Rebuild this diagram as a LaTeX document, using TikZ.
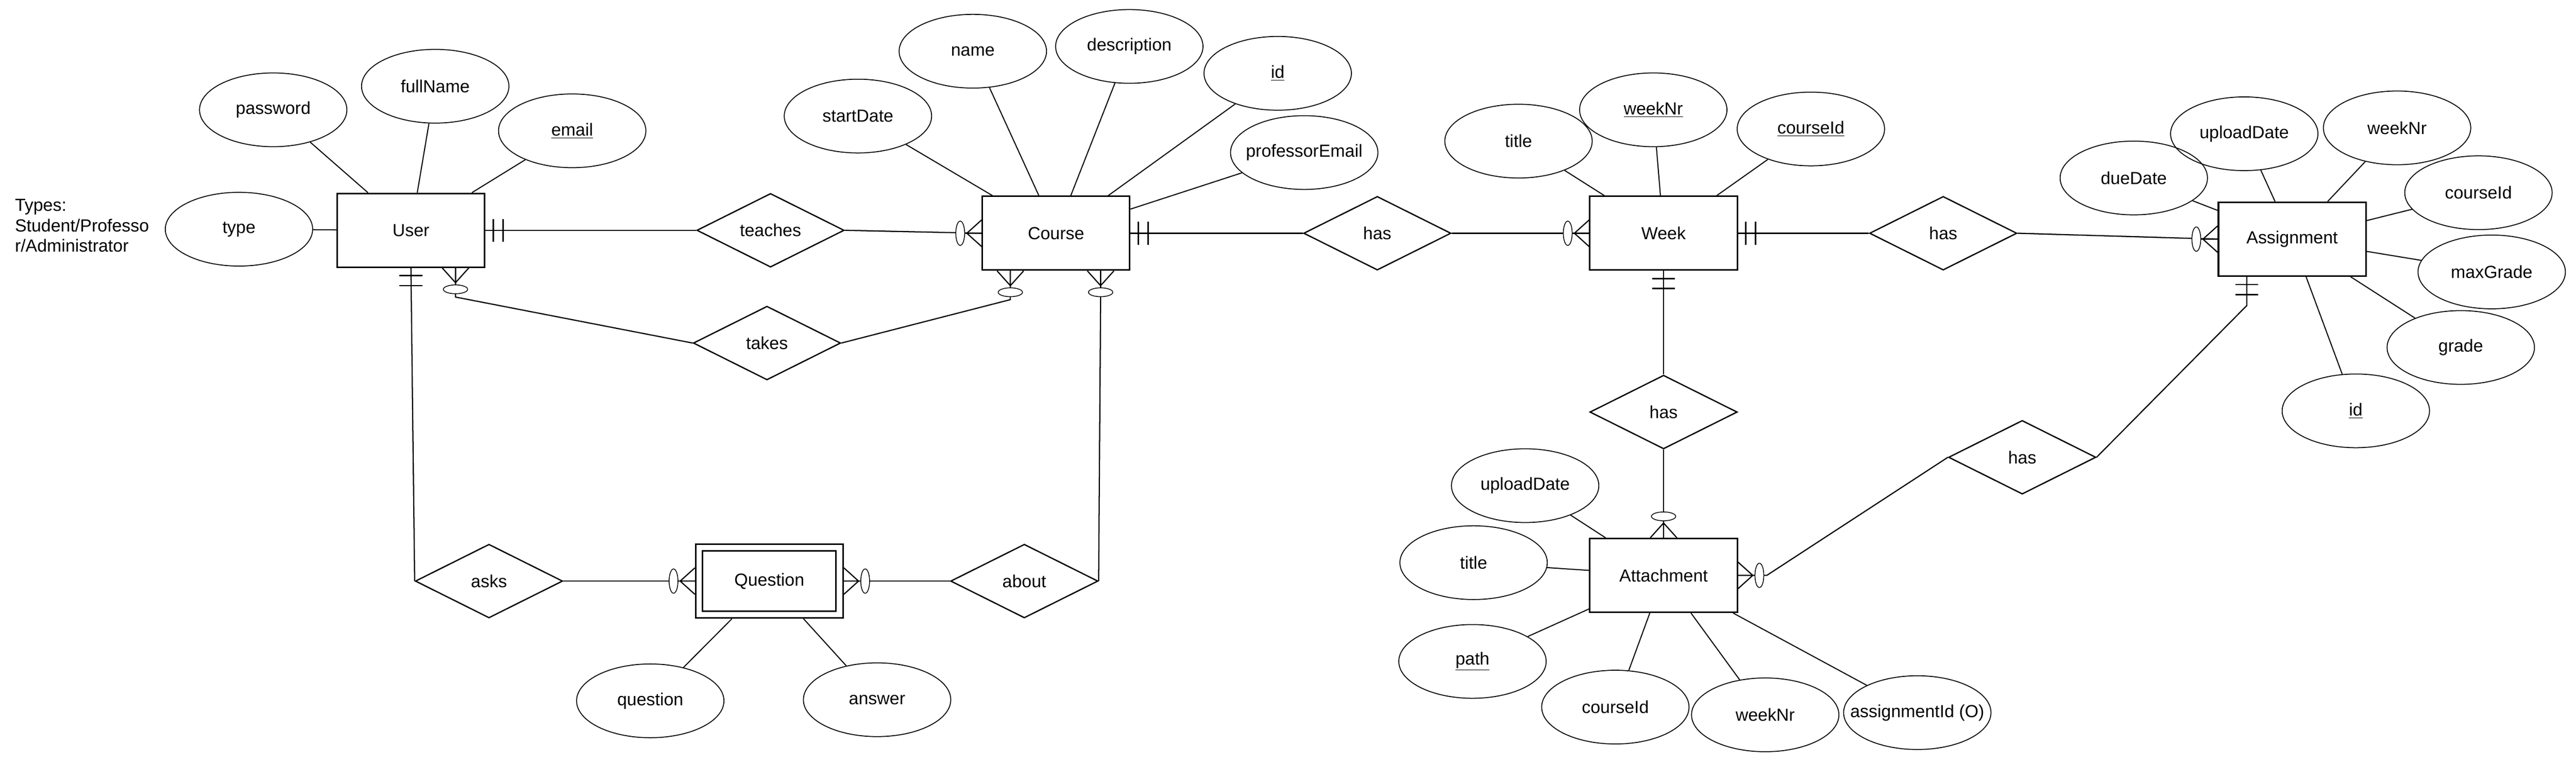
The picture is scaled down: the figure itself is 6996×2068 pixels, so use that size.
\documentclass[tikz,border=0pt]{standalone}
\usepackage{fontspec}
\setmainfont{Liberation Sans}
\usetikzlibrary{shapes.geometric,positioning}

\newcommand{\erfont}{\fontsize{13.5}{15.65}\selectfont}
% crow's foot ends: #1 = point on the entity border, #2 = direction away from it
\newcommand{\zeromany}[2]{%
	\begin{scope}[shift={(#1)},rotate=#2]
		\draw[line width=0.9pt] (0,-36) -- (40,0) -- (0,36) (0,0) -- (46,0);
		\draw[line width=0.6pt,fill=white] (58,0) ellipse [x radius=12,y radius=33];
	\end{scope}}
\newcommand{\onlyone}[2]{%
	\begin{scope}[shift={(#1)},rotate=#2]
		\draw[line width=1.1pt] (21,-31) -- (21,31) (48,-31) -- (48,31);
	\end{scope}}

\begin{document}
\begin{tikzpicture}[x=0.01cm,y=-0.01cm,line width=0.9pt]
	\tikzstyle{entity}=[draw=black,rectangle,line width=1.2pt,minimum width=4cm,minimum height=2cm,inner sep=0pt,font=\erfont]
	\tikzstyle{attr}=[draw=black,ellipse,line width=0.7pt,minimum width=4cm,minimum height=2cm,inner xsep=-5mm,inner ysep=0pt,font=\erfont]
	\tikzstyle{rel}=[draw=black,diamond,aspect=2,line width=1pt,minimum width=4cm,minimum height=2cm,inner sep=0pt,font=\erfont]
	\useasboundingbox (0,0) rectangle (6996,2068);

	% entities and relationships
	\node[entity]  (user) at (1116,625)                              {User};
	\node[rel]     (teaches)[right of=user, node distance=9.76cm]    {teaches};
	\node[entity]  (course) at (2868,633)                            {Course};
	\node[rel]     (has1)[right of=course, node distance=8.72cm]     {has};
	\node[entity]  (week)[right of=has1, node distance=7.77cm]       {Week};
	\node[rel]     (has2)[right of=week, node distance=7.59cm]       {has};
	\node[entity]  (asg) at (6225,649)                               {Assignment};
	\node[rel]     (takes) at (2083,931)                             {takes};
	\node[rel]     (has3)[below of=week, node distance=4.85cm]       {has};
	\node[entity]  (att)[below of=has3, node distance=4.43cm]        {Attachment};
	\node[rel]     (has4) at (5492,1241)                             {has};
	\node[rel]     (asks) at (1328,1577)                             {asks};
	\node[entity]  (quest)[right of=asks, node distance=7.61cm]      {Question};
	\node[rel]     (about)[right of=quest, node distance=6.92cm]     {about};
	\draw[line width=1.2pt] ([shift={(21,20)}]quest.north west) rectangle ([shift={(-21,-20)}]quest.south east);

	% attributes
	\node[attr] (uPass) at (742,298)     {password};
	\node[attr] (uName) at (1182,234)    {fullName};
	\node[attr] (uMail) at (1554,355)    {\underline{email}};
	\node[attr] (uType) at (649,622)     {type};
	\node[anchor=north west,align=left,inner sep=0pt,font=\erfont] (uTypes) at (39,539) {Types:\\Student/Professo\\r/Administrator};
	\node[attr] (cStart) at (2330,315)   {startDate};
	\node[attr] (cName) at (2642,139)    {name};
	\node[attr] (cDesc) at (3067,126)    {description};
	\node[attr] (cId) at (3470,199)      {\underline{id}};
	\node[attr] (cProf) at (3542,414)    {professorEmail};
	\node[attr] (wTitle) at (4124,383)   {title};
	\node[attr] (wNr) at (4490,298)      {\underline{weekNr}};
	\node[attr] (wCourse) at (4918,350)  {\underline{courseId}};
	\node[attr] (aDue) at (5795,483)     {dueDate};
	\node[attr] (aUpl) at (6095,363)     {uploadDate};
	\node[attr] (aWeek) at (6510,347)    {weekNr};
	\node[attr] (aCourse) at (6731,523)  {courseId};
	\node[attr] (aMax) at (6767,738)     {maxGrade};
	\node[attr] (aGrade) at (6683,943)   {grade};
	\node[attr] (aId) at (6398,1115)     {\underline{id}};
	\node[attr] (tUpl) at (4142,1318)    {uploadDate};
	\node[attr] (tTitle) at (4002,1527)  {title};
	\node[attr] (tPath) at (3999,1795)   {\underline{path}};
	\node[attr] (tCourse) at (4387,1919) {courseId};
	\node[attr] (tWeek) at (4794,1940)   {weekNr};
	\node[attr] (tAsg) at (5207,1934)    {assignmentId (O)};
	\node[attr] (qText) at (1766,1902)   {question};
	\node[attr] (qAns) at (2382,1899)    {answer};

	\path[every edge/.style={draw,line width=0.8pt}]
	(uPass) edge (user)
	(uName) edge (user)
	(uMail) edge (user)
	(uType) edge (user)
	(cStart) edge (course)
	(cName) edge (course)
	(cDesc) edge (course)
	(cId) edge (course)
	(cProf) edge (course)
	(wTitle) edge (week)
	(wNr) edge (week)
	(wCourse) edge (week)
	(aDue) edge (asg)
	(aUpl) edge (asg)
	(aWeek) edge (asg)
	(aCourse) edge (asg)
	(aMax) edge (asg)
	(aGrade) edge (asg)
	(aId) edge (asg)
	(tUpl) edge (att)
	(tTitle) edge (att)
	(tPath) edge (att)
	(tCourse) edge (att)
	(tWeek) edge (att)
	(tAsg) edge (att)
	(qText) edge (quest)
	(qAns) edge (quest);

	% relationship lines
	\coordinate (uT) at ([xshift=1.21cm]user.south);
	\coordinate (cT) at ([xshift=-1.24cm]course.south);
	\coordinate (cQ) at ([xshift=1.21cm]course.south);
	\coordinate (aB) at ([xshift=-1.23cm]asg.south);
	\draw (user.east) -- (teaches.west);
	\draw (teaches.east) -- (course.west);
	\draw (course.east) -- (has1.west);
	\draw (has1.east) -- (week.west);
	\draw (week.east) -- (has2.west);
	\draw (has2.east) -- (asg.west);
	\draw (week.south) -- (has3.north);
	\draw (has3.south) -- (att.north);
	\draw (uT) -- ++(0,79) -- (takes.west);
	\draw (cT) -- ++(0,78) -- (takes.east);
	\draw (cQ) -- ++(0,78) -- (about.east);
	\draw (user.south) -- (asks.west);
	\draw (asks.east) -- (quest.west);
	\draw (quest.east) -- (about.west);
	\draw (att.east) -- ++(78,0) -- (has4.west);
	\draw (aB) -- ++(0,78) -- (has4.east);

	% cardinalities
	\onlyone{user.east}{0}
	\onlyone{user.south}{-90}
	\zeromany{uT}{-90}
	\zeromany{course.west}{180}
	\zeromany{cT}{-90}
	\zeromany{cQ}{-90}
	\onlyone{course.east}{0}
	\zeromany{week.west}{180}
	\onlyone{week.east}{0}
	\onlyone{week.south}{-90}
	\zeromany{asg.west}{180}
	\onlyone{aB}{-90}
	\zeromany{att.north}{90}
	\zeromany{att.east}{0}
	\zeromany{quest.west}{180}
	\zeromany{quest.east}{0}
\end{tikzpicture}
\end{document}
